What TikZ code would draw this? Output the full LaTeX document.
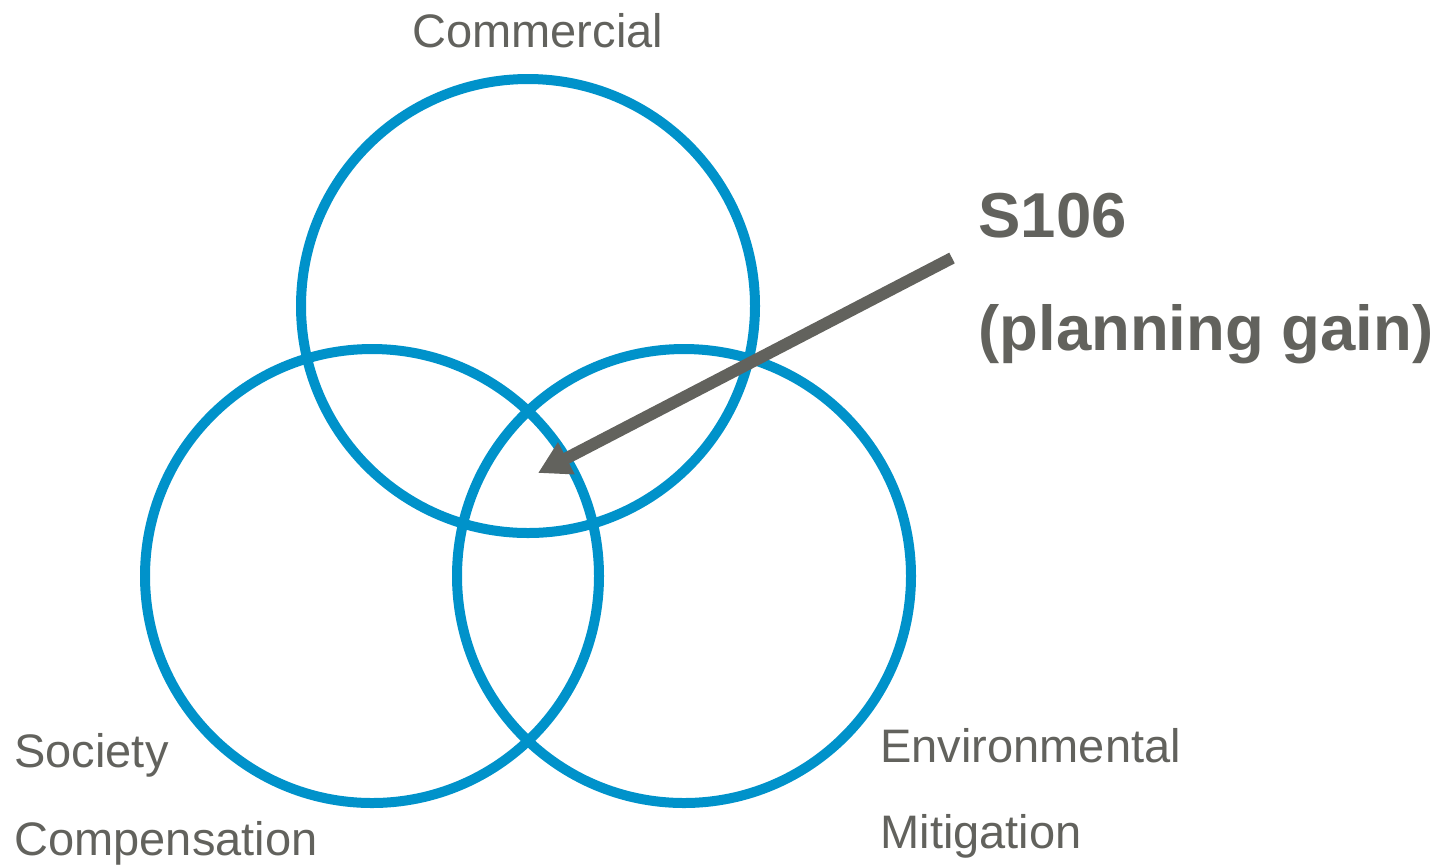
\documentclass[tikz,border=0pt]{standalone}
\usepackage{fontspec}
\setmainfont{Liberation Sans}
\usetikzlibrary{arrows.meta}
\definecolor{vennblue}{RGB}{0,146,202}
\definecolor{venngray}{RGB}{98,98,93}
\tikzset{
  ring/.style={circle, draw=vennblue, line width=5pt, minimum size=227pt, inner sep=0pt},
  tag/.style={text=venngray, anchor=base west, inner sep=0pt, font=\fontsize{23.5}{28}\selectfont},
  bigtag/.style={tag, font=\bfseries\fontsize{31.75}{38}\selectfont}
}
\begin{document}
\begin{tikzpicture}[x=0.5pt, y=-0.5pt]
\useasboundingbox (0,0) rectangle (1443,864);
% the three sets
\node[ring] (commercial) at (528,306) {};
\node[ring] (society) at (372,576) {};
\node[ring] (environment) at (684,576) {};
% labels
\node[tag] (commerciallabel) at (412,47) {Commercial};
\node[tag] (societylabel) at (14,767) {Society};
\node[tag] (compensationlabel) at (14,855) {Compensation};
\node[tag] (environmentlabel) at (880,762) {Environmental};
\node[tag] (mitigationlabel) at (880,848) {Mitigation};
\node[bigtag] (s106label) at (978,237) {S106};
\node[bigtag] (gainlabel) at (978,350) {(planning gain)};
% pointer into the middle
\coordinate (tail) at (952,258);
\coordinate (tip) at (538,473);
\draw[venngray, line width=6pt, -{Triangle[length=16pt, width=17pt]}] (tail) -- (tip);
\end{tikzpicture}
\end{document}
